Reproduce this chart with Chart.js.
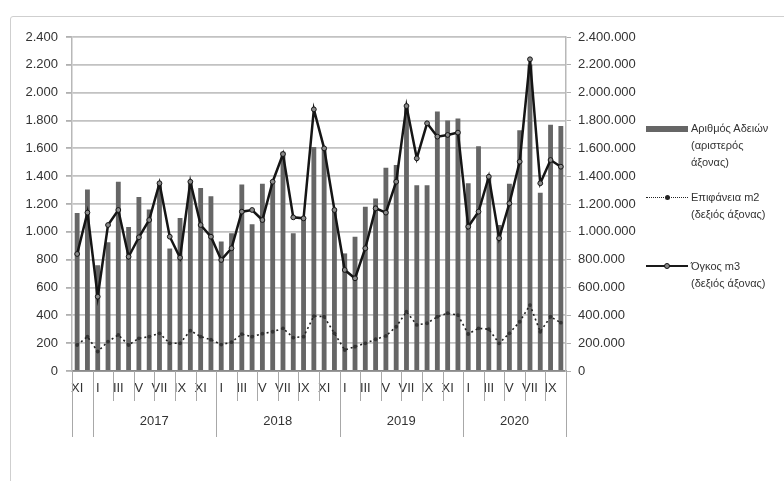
<!DOCTYPE html>
<html>
<head>
<meta charset="utf-8">
<script src="https://cdn.jsdelivr.net/npm/chart.js@4"></script>
<style>
  html, body { margin: 0; padding: 0; background: #fff; overflow: hidden; }
  #wrap { position: relative; width: 784px; height: 481px; }
  #frame { position: absolute; left: 10px; top: 16px; width: 800px; height: 500px;
           border: 1.5px solid #cfcfcf; border-radius: 3px; }
  canvas { position: absolute; left: 0; top: 0; }
  .leg { position: absolute; left: 691px; font: 11px 'Liberation Sans', Arial, sans-serif;
         color: #333; line-height: 17px; white-space: nowrap; }
  .sym { position: absolute; left: 646px; width: 42px; }
</style>
</head>
<body>
<div id="wrap">
  <div id="frame"></div>
  <canvas id="chart" width="784" height="481"></canvas>

  <div class="sym" style="top:126px;height:6px;background:#666;"></div>
  <div class="leg" style="top:120px;">Αριθμός Αδειών<br>(αριστερός<br>άξονας)</div>

  <div class="sym" style="top:197px;border-top:1.5px dotted #222;"></div>
  <div class="sym" style="top:195px;left:665px;width:5px;height:5px;border-radius:50%;background:#222;"></div>
  <div class="leg" style="top:189px;">Επιφάνεια m2<br>(δεξιός άξονας)</div>

  <div class="sym" style="top:265px;border-top:2px solid #1a1a1a;"></div>
  <div class="sym" style="top:263px;left:664px;width:4px;height:4px;border-radius:50%;background:#888;border:1px solid #111;"></div>
  <div class="leg" style="top:258px;">Όγκος m3<br>(δεξιός άξονας)</div>
</div>

<script>
// months XI 2016 .. X 2020
const months = ['XI','XII',
  'I','II','III','IV','V','VI','VII','VIII','IX','X','XI','XII',
  'I','II','III','IV','V','VI','VII','VIII','IX','X','XI','XII',
  'I','II','III','IV','V','VI','VII','VIII','IX','X','XI','XII',
  'I','II','III','IV','V','VI','VII','VIII','IX','X'];

// year groups: label + index of first month
const years = ['', '2017', '2018', '2019', '2020'];
const yearStart = [0, 2, 14, 26, 38];

// number of permits (left axis)
const permits = [1135, 1305,
  760, 925, 1360, 1035, 1250, 1160, 1355, 880, 1100, 1365, 1315, 1255,
  930, 990, 1340, 1055, 1345, 1350, 1575, 990, 1100, 1610, 1600, 1150,
  845, 965, 1180, 1240, 1460, 1480, 1890, 1335, 1335, 1865, 1800, 1815,
  1350, 1615, 1390, 1050, 1345, 1730, 2200, 1280, 1770, 1760];

// surface m2 (right axis)
const areaM2 = [187000, 247000,
  140000, 211000, 259000, 187000, 235000, 247000, 271000, 199000, 199000, 290000, 247000, 225000,
  190000, 207000, 265000, 247000, 268000, 282000, 307000, 240000, 247000, 395000, 390000, 271000,
  151000, 175000, 199000, 228000, 252000, 318000, 426000, 331000, 343000, 390000, 415000, 402000,
  266000, 307000, 300000, 199000, 271000, 354000, 474000, 282000, 390000, 347000];

// volume m3 (right axis)
const volumeM3 = [841000, 1138000,
  534000, 1049000, 1157000, 821000, 961000, 1085000, 1349000, 965000, 814000, 1360000, 1049000, 965000,
  798000, 882000, 1145000, 1157000, 1085000, 1360000, 1559000, 1104000, 1097000, 1880000, 1600000, 1157000,
  726000, 666000, 882000, 1169000, 1138000, 1360000, 1904000, 1528000, 1780000, 1684000, 1696000, 1713000,
  1037000, 1145000, 1396000, 954000, 1205000, 1504000, 2240000, 1349000, 1516000, 1468000];

const fmt = v => String(v).replace(/\B(?=(\d{3})+(?!\d))/g, '.');

Chart.defaults.font.family = "'Liberation Sans', Arial, sans-serif";
Chart.defaults.font.size = 13;
Chart.defaults.color = '#333';

// separators + year row under the month labels
const groupAxis = {
  id: 'groupAxis',
  afterDraw(chart) {
    const ctx = chart.ctx, x = chart.scales.x, top = chart.chartArea.bottom;
    const half = (x.getPixelForValue(1) - x.getPixelForValue(0)) / 2;
    const edge = k => x.getPixelForValue(k) - half;
    ctx.save();
    ctx.strokeStyle = '#a8a8a8';
    ctx.lineWidth = 1;
    for (let k = 0; k <= months.length; k += 2) {
      const long = yearStart.includes(k) || k === months.length;
      const px = Math.round(edge(k)) + 0.5;
      ctx.beginPath();
      ctx.moveTo(px, top);
      ctx.lineTo(px, top + (long ? 66 : 30));
      ctx.stroke();
    }
    ctx.fillStyle = '#333';
    ctx.font = "13px 'Liberation Sans', Arial, sans-serif";
    ctx.textAlign = 'center';
    ctx.textBaseline = 'middle';
    years.forEach((y, i) => {
      const end = i + 1 < yearStart.length ? yearStart[i + 1] : months.length;
      ctx.fillText(y, (edge(yearStart[i]) + edge(end)) / 2, top + 50);
    });
    ctx.restore();
  }
};

new Chart(document.getElementById('chart'), {
  data: {
    labels: months,
    datasets: [
      {
        type: 'line', label: 'Όγκος m3 (δεξιός άξονας)', data: volumeM3, yAxisID: 'y1', order: 1,
        borderColor: '#151515', borderWidth: 2.5, tension: 0,
        pointRadius: 2.4, pointBackgroundColor: '#8a8a8a', pointBorderColor: '#151515', pointBorderWidth: 1
      },
      {
        type: 'line', label: 'Επιφάνεια m2 (δεξιός άξονας)', data: areaM2, yAxisID: 'y1', order: 2,
        borderColor: '#222', borderWidth: 1.6, borderDash: [2, 3], tension: 0,
        pointRadius: 1.9, pointBackgroundColor: '#333', pointBorderColor: '#333', pointBorderWidth: 0
      },
      {
        type: 'bar', label: 'Αριθμός Αδειών (αριστερός άξονας)', data: permits, yAxisID: 'y', order: 3,
        backgroundColor: '#666', barPercentage: 0.47, categoryPercentage: 1
      }
    ]
  },
  options: {
    responsive: false,
    animation: false,
    layout: { padding: { top: 37, left: 0, right: 0, bottom: 0 } },
    plugins: { legend: { display: false }, tooltip: { enabled: false } },
    scales: {
      x: {
        offset: true,
        grid: { display: false, drawTicks: false },
        border: { display: true, color: '#8a8a8a', width: 1.8 },
        ticks: {
          autoSkip: false, maxRotation: 0, padding: 10,
          callback: (v, i) => (i % 2 === 0 ? months[i] : '')
        },
        afterFit: s => { s.height = 110; }
      },
      y: {
        position: 'left', min: 0, max: 2400,
        grid: { color: '#c2c2c2', lineWidth: 1.8, tickLength: 6, tickColor: '#b0b0b0' },
        border: { display: true, color: '#b8b8b8', width: 1.5 },
        ticks: { stepSize: 200, padding: 8, callback: v => fmt(v) },
        afterFit: s => { s.width = 72; }
      },
      y1: {
        position: 'right', min: 0, max: 2400000,
        grid: { drawOnChartArea: false, tickLength: 5, tickColor: '#b0b0b0' },
        border: { display: true, color: '#b8b8b8', width: 1.5 },
        ticks: { stepSize: 200000, padding: 7, callback: v => fmt(v) },
        afterFit: s => { s.width = 218; }
      }
    }
  },
  plugins: [groupAxis]
});
</script>
</body>
</html>
